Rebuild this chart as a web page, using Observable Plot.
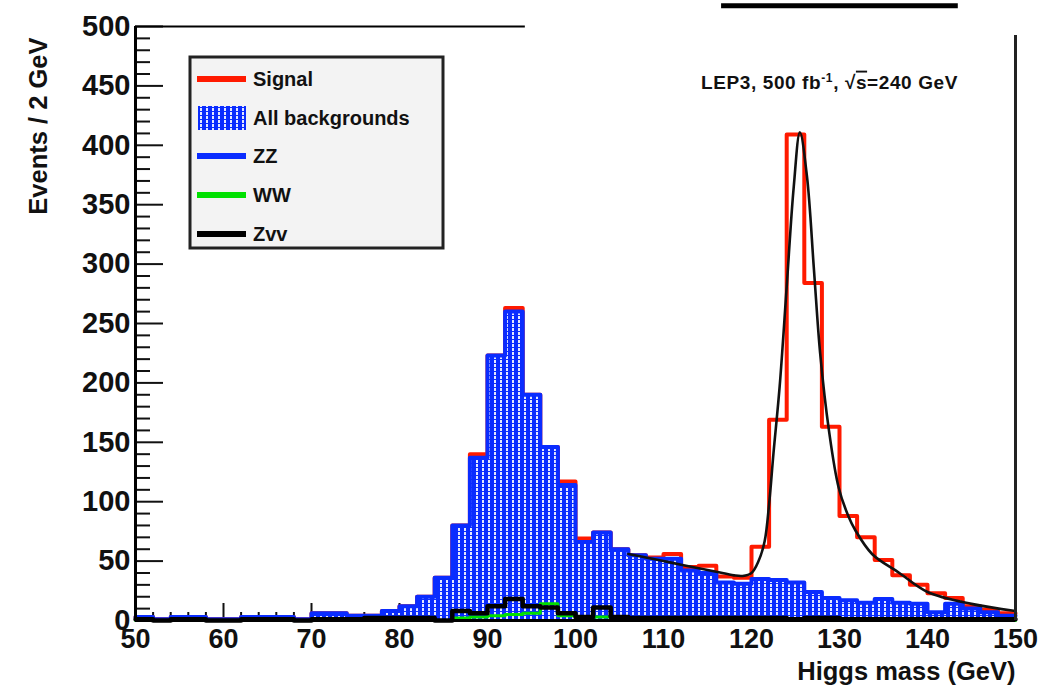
<!DOCTYPE html>
<html><head><meta charset="utf-8">
<script src="https://cdn.jsdelivr.net/npm/d3@7"></script>
<script src="https://cdn.jsdelivr.net/npm/@observablehq/plot@0.6"></script>
<style>
html,body{margin:0;padding:0;background:#fff;}
#chart{position:relative;width:1061px;height:685px;}
</style></head><body><div id="chart"></div>
<script>
// ---- data ----
const binWidth = 2;
const massLow = [50,52,54,56,58,60,62,64,66,68,70,72,74,76,78,80,82,84,86,88,90,92,94,96,98,100,102,104,106,108,110,112,114,116,118,120,122,124,126,128,130,132,134,136,138,140,142,144,146,148];
const allBackgrounds = [3,1,3,3,1,1,3,3,3,1,6,6,4,4,8,12,20,36,80,137,223,260,190,146,114,66,74,60,55,52,52,42,40,32,31,35,34,32,24,19,17,15,18,15,14,7,14,10,7,4];
const signalPlusBackground = [3,1,3,3,1,1,3,3,3,1,6,6,4,4,8,12,20,36,80,140,223,263,190,146,117,69,74,60,55,53,56,45,46,37,36,62,169,409,284,163,88,70,51,38,30,23,19,12,9,6];
const zzBackground = allBackgrounds;
const wwBackground = [0,0,0,0,0,0,0,0,0,0,0,0,0,0,0,0,0,0,2,3,4,5,6,14,4,2,3,1,0,0,0,0,0,0,0,0,0,0,0,0,0,0,0,0,0,0,0,0,0,0];
const zvvBackground = [1,0,1,1,0,0,1,1,1,0,1,1,1,2,2,2,2,0,8,6,12,18,12,11,6,3,11,3,2,2,2,2,2,2,2,2,2,1,2,2,1,1,1,1,1,1,1,1,1,1];
const fitMass  = [106,108,110,112,114,116,118,119,120,120.8,121.5,122,122.5,123.2,124,124.8,125.5,126.3,127.1,127.8,128.8,129.9,131,131.8,133.7,136.8,140,145,150];
const fitValue = [56,53,50,47,44,41,38,37.5,40,50,67,98,141,197,281,365,411,374,295,225,160,112,88,76,56,40,24,14,8];

const xMajor = [50,60,70,80,90,100,110,120,130,140,150];
const xMinor = d3.range(50,151,2).filter(v => v % 10 !== 0);
const yMajor = [0,50,100,150,200,250,300,350,400,450,500];
const yMinor = d3.range(0,501,10).filter(v => v % 50 !== 0);

const legendLabels = ["Signal","All backgrounds","ZZ","WW","Zvv"];
const legendColors = ["#ff1a00","hatch","#0a2cff","#00e000","#000000"];

const frameTop = [{x1:50, x2:94.3, y:500}];
const frameRight = [{x:150, y1:0, y2:492.5}];
const cropBar = [{x1:116.6, x2:143.5, y:517.5}];

// ---- layout ----
const W = 1061, H = 685, mL = 135, mR = 46, mT = 26, mB = 65;
const frameW = W - mL - mR, frameH = H - mT - mB;
const RED = "#ff1a00", BLUE = "#0a2cff", GREEN = "#00e000";
const FONT = "'Liberation Sans', Arial, Helvetica, sans-serif";

function steps(vals){
  const pts = massLow.map((m,i) => ({x:m, y:vals[i]}));
  pts.push({x: massLow[massLow.length-1] + binWidth, y: vals[vals.length-1]});
  return pts;
}
const fit = fitMass.map((m,i) => ({x:m, y:fitValue[i]}));

const plot = Plot.plot({
  width: W, height: H,
  marginLeft: mL, marginRight: mR, marginTop: mT, marginBottom: mB,
  style: {fontFamily: FONT, background: "white", overflow: "visible"},
  x: {domain: [50,150], axis: null},
  y: {domain: [0,500], axis: null},
  marks: [
    Plot.ruleX(xMinor, {stroke:"#111", strokeWidth:2, insetTop: frameH - 8}),
    Plot.ruleX(xMajor, {stroke:"#111", strokeWidth:2, insetTop: frameH - 17}),
    Plot.ruleY(yMinor, {stroke:"#111", strokeWidth:2, insetRight: frameW - 15}),
    Plot.ruleY(yMajor, {stroke:"#111", strokeWidth:2, insetRight: frameW - 28}),
    Plot.line(steps(signalPlusBackground), {x:"x", y:"y", curve:"step-after", stroke:RED, strokeWidth:4}),
    Plot.areaY(steps(allBackgrounds), {x:"x", y:"y", curve:"step-after", fill:"url(#rootHatch)"}),
    Plot.line(steps(zzBackground), {x:"x", y:"y", curve:"step-after", stroke:BLUE, strokeWidth:4}),
    Plot.line(steps(wwBackground), {x:"x", y:"y", curve:"step-after", stroke:GREEN, strokeWidth:3}),
    Plot.line(steps(zvvBackground), {x:"x", y:"y", curve:"step-after", stroke:"#000", strokeWidth:4.5}),
    Plot.line(fit, {x:"x", y:"y", curve:"catmull-rom", stroke:"#111", strokeWidth:2.6}),
    Plot.ruleX([50], {stroke:"#000", strokeWidth:3}),
    Plot.ruleY([0], {stroke:"#000", strokeWidth:3}),
    Plot.ruleY(frameTop, {x1:"x1", x2:"x2", y:"y", stroke:"#000", strokeWidth:2}),
    Plot.ruleX(frameRight, {x:"x", y1:"y1", y2:"y2", stroke:"#222", strokeWidth:3}),
    Plot.ruleY(cropBar, {x1:"x1", x2:"x2", y:"y", stroke:"#000", strokeWidth:5}),
    Plot.axisX({ticks: xMajor, tickSize: 0, tickPadding: 8, fontSize: 27, fontWeight: "bold", label: null, tickFormat: d => String(d), fill:"#111"}),
    Plot.axisY({ticks: yMajor, tickSize: 0, tickPadding: 5, fontSize: 29, fontWeight: "bold", label: null, tickFormat: d => String(d), fill:"#111"}),
    Plot.text(["Events / 2 GeV"], {frameAnchor:"top-left", rotate:-90, textAnchor:"end", lineAnchor:"middle", dx: 38 - mL, dy: 11, fontSize: 25.5, fontWeight:"bold", fill:"#111"}),
    Plot.text(["Higgs mass (GeV)"], {frameAnchor:"bottom-right", textAnchor:"end", lineAnchor:"middle", dx: 1015 - (W - mR), dy: 51, fontSize: 25.5, fontWeight:"bold", fill:"#111"})
  ]
});

const svg = d3.select(plot);
const defs = svg.insert("defs", ":first-child");
const pat = defs.append("pattern").attr("id","rootHatch").attr("width",6).attr("height",4).attr("patternUnits","userSpaceOnUse");
pat.append("rect").attr("width",6).attr("height",4).attr("fill",BLUE);
pat.append("rect").attr("x",2).attr("y",0).attr("width",2).attr("height",3).attr("fill","#e4e7ff");

// legend
const lg = svg.append("g").attr("font-family", FONT).attr("text-anchor","start");
lg.append("rect").attr("x",190).attr("y",57).attr("width",253).attr("height",191).attr("fill","#f3f3f3").attr("stroke","#222").attr("stroke-width",3);
const rowY = [79,118,156,195,234];
legendLabels.forEach((lab,i) => {
  const y = rowY[i];
  if (legendColors[i] === "hatch") {
    lg.append("rect").attr("x",198).attr("y",y-12).attr("width",48).attr("height",24).attr("fill","url(#rootHatch)");
  } else {
    lg.append("line").attr("x1",197).attr("x2",246).attr("y1",y).attr("y2",y).attr("stroke",legendColors[i]).attr("stroke-width",6);
  }
  lg.append("text").attr("x",253).attr("y",y).attr("dy","0.35em").attr("text-anchor","start").attr("font-size",20).attr("font-weight","bold").attr("fill","#111").text(lab);
});

// energy label
const t = svg.append("text").attr("x",958).attr("y",82).attr("dy","0.35em").attr("text-anchor","end")
  .attr("font-family",FONT).attr("font-size",19).attr("letter-spacing",0.6).attr("font-weight","bold").attr("fill","#111");
t.append("tspan").text("LEP3, 500 fb");
t.append("tspan").attr("dy",-7).attr("font-size",12).text("-1");
t.append("tspan").attr("dy",7).text(", \u221A");
t.append("tspan").attr("text-decoration","overline").text("s");
t.append("tspan").text("=240 GeV");

document.getElementById("chart").appendChild(plot);
</script>
</body></html>
